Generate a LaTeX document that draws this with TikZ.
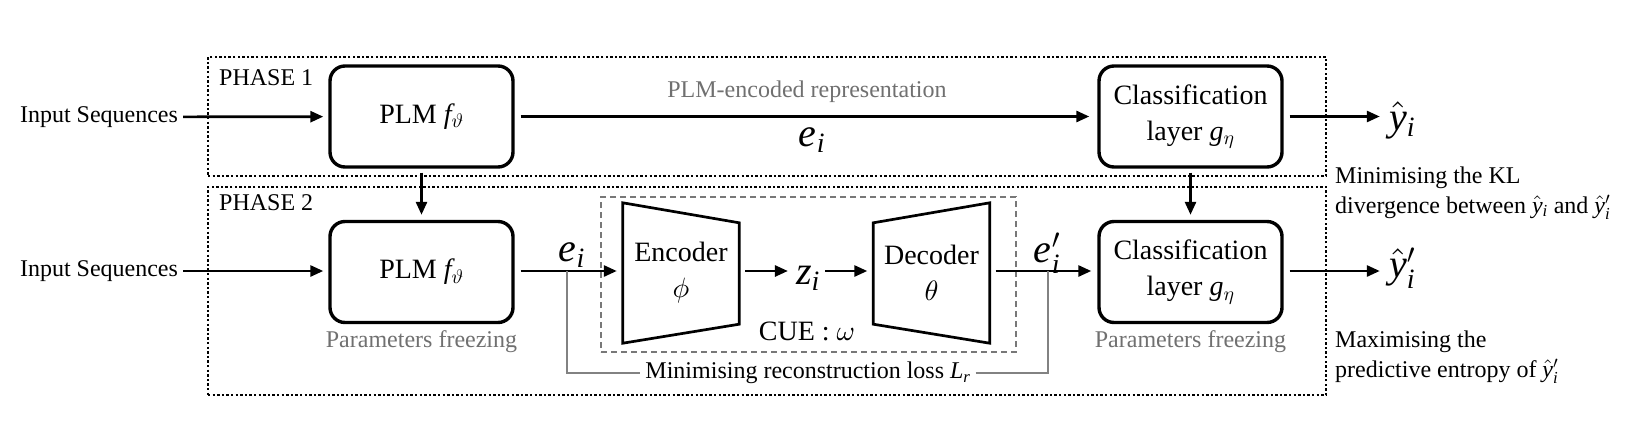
\documentclass[tikz,border=0pt]{standalone}
\usepackage{fontspec}
\setmainfont{Liberation Serif}
\newfontfamily\lsit{Liberation Serif}[NFSSFamily=lsf]
\DeclareFontShape{OML}{cmm}{m}{it}{<->cmmi10}{}
\DeclareFontShape{OMS}{cmsy}{m}{n}{<->cmsy10}{}
\DeclareFontShape{OMX}{cmex}{m}{n}{<->cmex10}{}
\DeclareFontShape{OT1}{cmr}{m}{n}{<->cmr10}{}
\DeclareSymbolFont{tletters}{TU}{lsf}{m}{it}
\DeclareMathSymbol{e}{\mathalpha}{tletters}{`e}
\DeclareMathSymbol{i}{\mathalpha}{tletters}{`i}
\DeclareMathSymbol{y}{\mathalpha}{tletters}{`y}
\DeclareMathSymbol{z}{\mathalpha}{tletters}{`z}
\DeclareMathSymbol{f}{\mathalpha}{tletters}{`f}
\DeclareMathSymbol{g}{\mathalpha}{tletters}{`g}
\DeclareMathSymbol{L}{\mathalpha}{tletters}{`L}
\DeclareMathSymbol{r}{\mathalpha}{tletters}{`r}
\usetikzlibrary{arrows.meta,calc}
\definecolor{textgray}{RGB}{112,112,112}
\definecolor{boxgray}{RGB}{120,120,120}
\definecolor{linegray}{RGB}{130,130,130}
\begin{document}
\begin{tikzpicture}[x=1pt,y=-1pt,
  blk/.style={draw,line width=3.4pt,rounded corners=15pt,minimum width=183pt,minimum height=101pt,align=center,inner sep=0pt,font=\fontsize{28}{36}\selectfont},
  phase/.style={draw,line width=2.4pt,dash pattern=on 2.4pt off 2.2pt,inner sep=0pt},
  arr/.style={line width=2.7pt,-{Triangle[length=13pt,width=11pt]}},
  lbl/.style={font=\fontsize{24}{30}\selectfont,inner sep=0pt},
  glbl/.style={lbl,text=textgray},
  big/.style={font=\fontsize{40}{42}\selectfont,inner sep=0pt},
  coder/.style={minimum width=116pt,minimum height=140pt,align=center,inner sep=0pt,font=\fontsize{28}{36}\selectfont},
  trap/.style={draw,line width=2.7pt,line join=miter},
  gline/.style={draw=linegray,line width=1.4pt}
]
\useasboundingbox (0,0) rectangle (1637,431);

% phase frames
\node[phase,minimum width=1118pt,minimum height=119pt] (ph1) at (767,116.5) {};
\node[phase,minimum width=1118pt,minimum height=208pt] (ph2) at (767,291) {};
\node[lbl,anchor=west] (ph1l) at (219,78) {PHASE 1};
\node[lbl,anchor=west] (ph2l) at (219,203) {PHASE 2};

% CUE frame
\node[draw=boxgray,line width=2pt,dash pattern=on 6pt off 4pt,minimum width=415pt,minimum height=155pt,inner sep=0pt] (cue) at (808.5,274.5) {};
\node[font=\fontsize{28}{32}\selectfont,inner sep=0pt] (cuel) at (807,331) {CUE : $\omega$};

% inputs
\node[lbl] (in1) at (99,117) {Input Sequences};
\node[lbl] (in2) at (99,271) {Input Sequences};

% blocks
\node[blk] (plm1) at (421.5,116.5) {PLM $f_\vartheta$};
\node[blk] (plm2) at (421.5,272) {PLM $f_\vartheta$};
\node[blk] (cls1) at (1190.5,116.5) {Classification\\layer $g_\eta$};
\node[blk] (cls2) at (1190.5,272) {Classification\\layer $g_\eta$};

\node[glbl] (pf1) at (421.5,342) {Parameters freezing};
\node[glbl] (pf2) at (1190.5,342) {Parameters freezing};

% encoder / decoder
\node[coder] (enc) at (681,273) {Encoder\\$\phi$};
\node[coder] (dec) at (931.5,273) {Decoder\\$\theta$};
\draw[trap] (enc.north west) -- ($(enc.north east)+(0,20)$) -- ($(enc.south east)+(0,-19)$) -- (enc.south west) -- cycle;
\draw[trap] ($(dec.north west)+(0,20)$) -- (dec.north east) -- (dec.south east) -- ($(dec.south west)+(0,-19)$) -- cycle;
\node[big] (z) at (808,278) {$z_i$};

% labels
\node[glbl] (plmrep) at (807,92) {PLM-encoded representation};
\node[big] (e1) at (812,140) {$e_i$};
\node[big] (e2) at (572,255) {$e_i$};
\node[big] (e2p) at (1047,253) {$e'_i$};
\node[big] (yh1) at (1402,120) {$\hat{y}_i$};
\node[big] (yh2) at (1402,268) {$\hat{y}'_i$};

% annotations
\node[lbl,anchor=west,align=left] (kl) at (1335,193) {Minimising the KL\\divergence between $\hat{y}_i$ and $\hat{y}'_i$};
\node[lbl,anchor=west,align=left] (ent) at (1335,357) {Maximising the\\predictive entropy of $\hat{y}'_i$};

% arrows row 1
\draw[arr,shorten <=5pt,shorten >=5pt] (in1) -- (plm1);
\draw[arr,shorten <=6pt,shorten >=8pt] (plm1) -- (cls1);
\draw[arr,shorten <=6pt,shorten >=9pt] (cls1.east) -- (cls1.east -| yh1.west);
\draw[arr,shorten <=4pt,shorten >=5pt] (plm1) -- (plm2);
\draw[arr,shorten <=4pt,shorten >=5pt] (cls1) -- (cls2);

% arrows row 2
\draw[arr,shorten <=5pt,shorten >=5pt] (in2.east) -- (in2.east -| plm2.west);
\coordinate (b1) at (567,271);
\coordinate (b2) at (1048,271);
\draw[arr,shorten <=6pt,shorten >=6pt] (plm2.east |- b1) -- (enc.west |- b1);
\draw[arr,shorten <=6pt,shorten >=8pt] (enc.east |- b1) -- (z.west |- b1);
\draw[arr,shorten <=5pt,shorten >=6pt] (z.east |- b1) -- (dec.west |- b1);
\draw[arr,shorten <=6pt,shorten >=6pt] (dec.east |- b1) -- (cls2.west |- b1);
\draw[arr,shorten <=6pt,shorten >=9pt] (cls2.east |- b1) -- (yh2.west |- b1);

% reconstruction bracket
\node[lbl,inner xsep=5pt] (rec) at (808,373) {Minimising reconstruction loss $L_r$};
\draw[gline] (b1) |- (rec.west);
\draw[gline] (rec.east) -| (b2);
\end{tikzpicture}
\end{document}
